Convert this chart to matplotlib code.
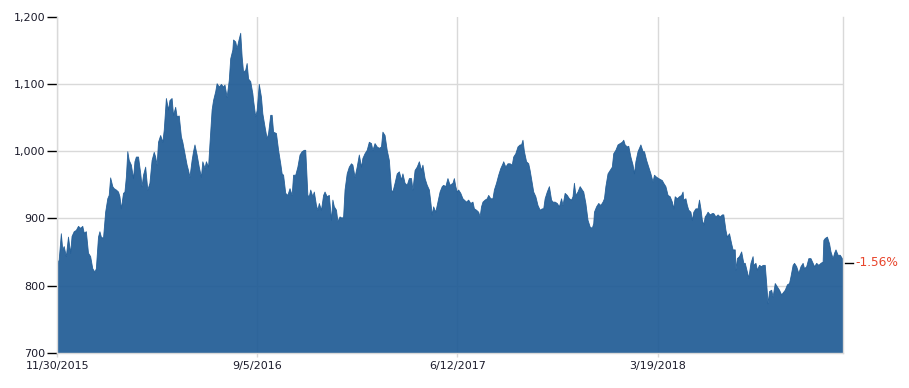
import matplotlib
matplotlib.use('Agg')
import matplotlib.pyplot as plt
import matplotlib.transforms as mtransforms
import pandas as pd

# Series (days after 11/30/2015, index level)
days = [
    0, 2, 5, 7, 9, 12, 15, 18, 20, 23, 26, 29, 32, 35, 37, 40, 43, 46, 49, 52, 54, 57, 59, 61, 64,
    67, 70, 72, 74, 77, 79, 82, 85, 87, 89, 92, 94, 96, 98, 100, 103, 106, 108, 110, 113, 116, 118,
    120, 123, 126, 129, 132, 135, 137, 139, 141, 144, 147, 149, 152, 155, 157, 160, 162, 165, 167,
    170, 173, 175, 178, 181, 183, 185, 188, 190, 192, 195, 198, 201, 203, 206, 208, 211, 213, 216,
    218, 221, 223, 226, 229, 232, 234, 237, 240, 242, 245, 246, 249, 251, 253, 256, 258, 260, 263,
    265, 267, 270,
    273, 274, 277, 279, 282, 285, 287, 290, 293, 295, 298, 300, 302, 306, 309, 312, 314, 316, 319,
    322, 325, 328, 330, 333, 336, 339, 342, 345, 347, 350, 352, 354, 357, 359, 362, 364, 366, 369,
    372, 374, 377, 380, 383, 385, 387, 390, 392, 395, 398, 400, 402, 405, 408, 411, 413, 416, 419,
    422, 425, 427, 430, 433, 436, 439, 441, 444, 447, 450, 453, 455, 458, 461, 464, 467, 469, 472,
    475, 478, 481, 483, 486, 489, 492, 495, 497, 500, 503, 506, 509, 511, 514, 517, 520, 522, 524,
    526, 529, 532, 535, 538, 540, 543, 546, 549,
    553, 555, 557, 559, 561, 564, 567, 569, 572, 575, 578, 581, 583, 586, 589, 591, 593, 595, 598,
    601, 603, 606, 609, 611, 614, 617, 620, 623, 624, 627, 630, 633, 636, 638, 641, 644, 647, 649,
    651, 653, 656, 659, 661, 664, 666, 669, 672, 675, 678, 680, 682, 685, 688, 691, 693, 696, 699,
    702, 705, 707, 710, 713, 716, 719, 721, 723, 725, 728, 731, 734, 736, 739, 742, 745, 748, 750,
    751, 754, 757, 760, 763, 765, 767, 770, 773, 776, 778, 781, 784, 787, 790, 792, 794, 797, 799,
    802, 805, 807, 809, 812, 816, 819, 821, 824, 827, 830, 833, 835, 838, 841,
    846, 848, 851, 854, 857, 860, 862, 864, 867, 870, 873, 875, 876, 879, 881, 883, 886, 888, 890,
    893, 896, 898, 900, 902, 904, 906, 908, 910, 913, 916, 918, 921, 924, 927, 930, 932, 935, 937,
    940, 943, 945, 948, 949, 951, 954, 957, 960, 962, 965, 967, 970, 973, 974, 977, 979, 982, 985,
    987, 990, 992, 994, 996, 999, 1001, 1004, 1007, 1010, 1013, 1015, 1018, 1021, 1024, 1026, 1029,
    1031, 1034, 1037, 1040, 1043, 1045, 1048, 1051, 1054, 1057, 1059, 1062, 1065, 1068, 1071, 1072,
    1074, 1077, 1080, 1082, 1085, 1087, 1089, 1092, 1095, 1098, 1099,
]
values = [
    834, 839, 878, 854, 859, 844, 873, 849, 874, 881, 883, 889, 886, 889, 879, 881, 849, 844, 826,
    821, 826, 873, 881, 873, 871, 910, 930, 935, 961, 948, 945, 943, 940, 933, 915, 938, 940, 962,
    1000, 987, 980, 960, 985, 992, 992, 968, 948, 965, 977, 943, 953, 987, 999, 992, 980, 1014, 1024,
    1014, 1032, 1079, 1062, 1076, 1079, 1054, 1066, 1052, 1053, 1022, 1014, 997, 980, 972, 962, 987,
    1000, 1010, 995, 977, 962, 985, 975, 985, 977, 1012, 1062, 1076, 1089, 1101, 1096, 1100, 1096,
    1099, 1081, 1106, 1138, 1151, 1166, 1163, 1153, 1163, 1176, 1141, 1118, 1121, 1131, 1108, 1104,
    1086, 1076, 1052, 1061, 1100, 1081, 1056, 1037, 1019, 1027, 1054, 1054, 1029, 1027, 1002, 982,
    967, 965, 938, 935, 945, 935, 965, 965, 977, 995, 1000, 1002, 1002, 935, 933, 943, 933, 940, 920,
    913, 923, 913, 935, 940, 933, 935, 898, 928, 918, 913, 896, 903, 901, 903, 943, 967, 977, 982,
    980, 962, 977, 995, 977, 990, 997, 1002, 1014, 1012, 1002, 1012, 1007, 1005, 1007, 1029, 1024,
    1002, 987, 943, 940, 953, 967, 970, 958, 967, 953, 950, 960, 960, 943, 972, 977, 985, 972, 980,
    960, 950, 943, 925, 906, 918, 910, 925, 940, 948, 950, 948, 960, 950,
    953, 960, 948, 940, 943, 938, 930, 928, 925, 928, 923, 925, 915, 913, 910, 903, 918, 925, 928,
    930, 935, 930, 930, 943, 953, 965, 975, 982, 985, 977, 982, 982, 980, 992, 997, 1007, 1010, 1010,
    1017, 1000, 985, 982, 972, 953, 940, 933, 920, 913, 915, 915, 930, 940, 948, 928, 925, 925, 923,
    918, 930, 920, 938, 935, 930, 928, 933, 953, 935, 940, 948, 943, 940, 923, 898, 888, 886, 893,
    910, 918, 923, 920, 925, 930, 948, 967, 972, 977, 997, 1002, 1010, 1012, 1014, 1017, 1010, 1007,
    1008, 992, 980, 967, 985, 1000, 1010, 1000, 1000, 987, 977, 967, 955, 965, 962, 960,
    957, 953, 948, 935, 933, 925, 915, 933, 930, 933, 935, 940, 928, 930, 920, 913, 910, 898, 910,
    915, 915, 928, 915, 898, 891, 903, 906, 910, 906, 908, 908, 903, 906, 903, 906, 906, 883, 873,
    878, 863, 854, 854, 824, 841, 844, 851, 834, 834, 821, 812, 834, 844, 831, 834, 824, 831, 829,
    831, 831, 804, 774, 792, 794, 784, 804, 799, 794, 787, 790, 794, 802, 804, 814, 831, 834, 829,
    819, 829, 834, 826, 829, 841, 841, 834, 829, 834, 831, 834, 836, 868, 871, 873, 863, 851, 841,
    849, 854, 846, 846, 841, 834,
]
start_date = '2015-11-30'
end_date = '2018-12-03'
tick_dates = ['2015-11-30', '2016-09-05', '2017-06-12', '2018-03-19']
tick_labels = ['11/30/2015', '9/5/2016', '6/12/2017', '3/19/2018']
y_ticks = [700, 800, 900, 1000, 1100, 1200]
change_label = '-1.56%'

FILL = '#1f5b95'
GRID = '#d9d9d9'
TEXT = '#1c1c2c'
RED = '#e8452c'

dates = pd.to_datetime(start_date) + pd.to_timedelta(days, unit='D')

fig = plt.figure(figsize=(9.09, 3.88), dpi=100)
ax = fig.add_axes([0.063, 0.0902, 0.864, 0.867])

ax.fill_between(dates, values, y_ticks[0], color=FILL, alpha=0.92, linewidth=0.6,
                edgecolor=FILL, zorder=2)

ax.set_xlim(pd.to_datetime(start_date), pd.to_datetime(end_date))
ax.set_ylim(y_ticks[0], y_ticks[-1])
ax.set_xticks(pd.to_datetime(tick_dates))
ax.set_xticklabels(tick_labels)
ax.set_yticks(y_ticks)
ax.set_yticklabels([f'{v:,}' for v in y_ticks])

ax.grid(True, color=GRID, linewidth=1, zorder=1)
ax.set_axisbelow(True)
ygl = ax.get_ygridlines()
ygl[0].set_visible(False)
ygl[-1].set_visible(False)

ax.tick_params(axis='y', length=7, width=1, color='black', pad=1.5, labelsize=8, labelcolor=TEXT)
ax.tick_params(axis='x', length=3, width=1, color=GRID, pad=2.5, labelsize=8, labelcolor=TEXT)

for side in ['left', 'right', 'bottom']:
    ax.spines[side].set_color(GRID)
    ax.spines[side].set_linewidth(1)
ax.spines['top'].set_visible(False)

# end-of-series marker with change label
trans = mtransforms.blended_transform_factory(ax.transAxes, ax.transData)
last = values[-1]
ax.plot([1.003, 1.013], [last, last], color='black', linewidth=1, transform=trans, clip_on=False)
ax.text(1.016, last, change_label, color=RED, fontsize=8.7, va='center', ha='left', transform=trans)

fig.savefig('out.png', dpi=100, facecolor='white')
